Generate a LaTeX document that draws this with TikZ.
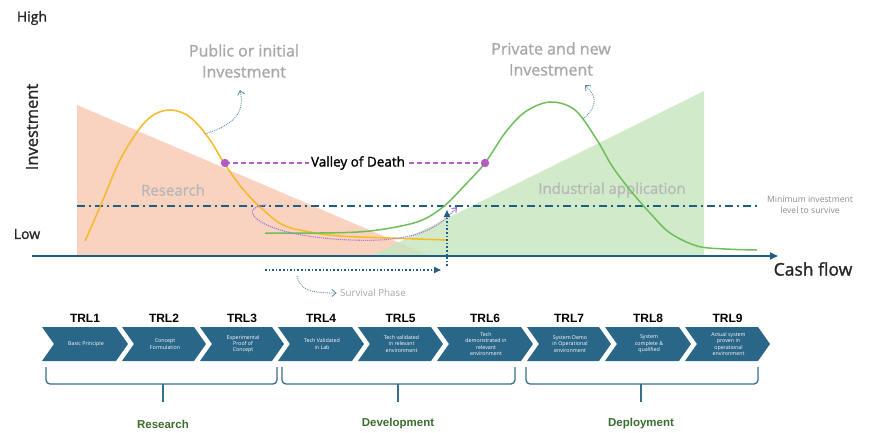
\documentclass[tikz,border=0pt]{standalone}
\usepackage{fontspec}
\setmainfont{Open Sans}
\newfontfamily\semif{Open Sans}[FakeBold=1.3]
\newfontfamily\arialf{Liberation Sans}
\usetikzlibrary{arrows.meta}
\definecolor{salmon}{HTML}{F9D3C0}
\definecolor{greenfill}{HTML}{C9E6C0}
\definecolor{orangec}{HTML}{F7B924}
\definecolor{greenc}{HTML}{6DBF5A}
\definecolor{darkblue}{HTML}{1F5F82}
\definecolor{magentac}{HTML}{B45CC0}
\definecolor{purplec}{HTML}{A472D8}
\definecolor{lightgraytext}{HTML}{A8A8A8}
\definecolor{chevc}{HTML}{2A6688}
\definecolor{phasegreen}{HTML}{3B6E2F}
\begin{document}
\begin{tikzpicture}[x=1pt,y=-1pt,
  axislabel/.style={font=\semif\fontsize{14}{16}\selectfont, text=black!85},
  graytitle/.style={font=\semif\fontsize{16}{21}\selectfont, text=lightgraytext, align=center},
  areatext/.style={font=\semif\fontsize{15}{17}\selectfont, text=black!28},
  smalltext/.style={font=\fontsize{8.6}{10.5}\selectfont, text=black!45, align=center},
  chevtext/.style={font=\fontsize{5.3}{6.3}\selectfont, text=white, align=center},
  trllabel/.style={font=\arialf\bfseries\fontsize{12}{14}\selectfont},
  phaselabel/.style={font=\arialf\bfseries\fontsize{11.5}{13}\selectfont, text=phasegreen},
  bluedot/.style={darkblue, line width=1.6pt, dotted},
  curvearrow/.style={darkblue!70, line width=0.9pt, densely dotted, -{Straight Barb[length=4pt,width=7pt]}},
  bracec/.style={darkblue!90, line width=1.3pt}
]
\useasboundingbox (0,0) rectangle (878,433);

% areas
\fill[salmon] (77,105) -- (430,256) -- (77,256) -- cycle;
\fill[greenfill, opacity=0.85] (371,256) -- (704,91) -- (704,256) -- cycle;
\node[areatext] (research) at (173,190) {Research};
\node[areatext] (industrial) at (612,190) {Industrial application};

% min level dash-dot
\coordinate (minL) at (77,206);
\coordinate (minR) at (760,206);
\draw[darkblue, line width=1.6pt, dash pattern=on 8pt off 4pt on 2pt off 4pt] (minL) -- (minR);
\node[smalltext] (minlabel) at (810,205) {Minimum investment\\level to survive};

% curves
\draw[orangec, line width=1.5pt] plot[smooth, tension=0.55] coordinates {(85,241) (100,207) (120,160) (140,128) (155,114) (171,110) (187,115) (200,127) (212,143) (224,163) (242,188) (260,207) (283,225) (310,232) (340,236) (390,238) (447,240)};
\draw[greenc, line width=1.5pt] plot[smooth, tension=0.55] coordinates {(265,233) (320,233) (370,231) (417,222) (443,207) (465,185) (485,163) (505,133) (525,112) (550,102) (575,110) (597,140) (612,166) (630,190) (650,213) (670,233) (697,246) (725,249) (757,250)};

% purple loop
\coordinate (pS) at (266,205);
\coordinate (pE) at (457,207);
\draw[purplec, line width=1.1pt, densely dotted, -{Straight Barb[length=4pt,width=6pt]}] (pS) .. controls (235,207) and (255,236) .. (350,240) .. controls (420,243) and (440,226) .. (pE);

% valley of death
\coordinate (vL) at (225,163);
\coordinate (vR) at (485,163);
\draw[magentac, line width=1.4pt, dash pattern=on 5pt off 3pt] (vL) -- (vR);
\node[fill=white, inner sep=2pt, font=\semif\fontsize{13.5}{16}\selectfont] (vod) at (358,163) {Valley of Death};
\fill[magentac] (vL) circle (4.2pt);
\fill[magentac] (vR) circle (4.2pt);

% axis
\coordinate (axL) at (32,256);
\coordinate (axR) at (778,256);
\draw[darkblue, line width=1.6pt, -{Triangle[length=8pt,width=7pt]}] (axL) -- (axR);
\node[axislabel, font=\semif\fontsize{17.5}{20}\selectfont] (cash) at (813,269) {Cash flow};
\node[axislabel] (high) at (32,18) {High};
\node[axislabel] (low) at (27,234) {Low};
\node[axislabel, font=\semif\fontsize{16.5}{19}\selectfont, rotate=90] (inv) at (32,127) {Investment};

% survival arrows
\coordinate (sv1) at (447,266);
\coordinate (sv2) at (447,210);
\draw[bluedot, -{Triangle[length=7pt,width=6pt]}] (sv1) -- (sv2);
\coordinate (sh1) at (265,270);
\coordinate (sh2) at (441,270);
\draw[bluedot, -{Triangle[length=7pt,width=6pt]}] (sh1) -- (sh2);
\node[font=\fontsize{9.8}{11}\selectfont, text=black!35] (surv) at (373,293) {Survival Phase};
\coordinate (sa) at (297,276);
\draw[curvearrow] (sa) .. controls (300,290) and (310,293) .. (surv.west);

% titles
\node[graytitle] (pub) at (244,61) {Public or initial\\Investment};
\node[graytitle] (priv) at (551,59) {Private and new\\Investment};
\coordinate (pa) at (205,134);
\coordinate (pat) at (240,90);
\draw[curvearrow] (pa) .. controls (230,126) and (246,115) .. (pat);
\coordinate (pr) at (583,119);
\coordinate (prt) at (585,85);
\draw[curvearrow] (pr) .. controls (600,105) and (595,95) .. (prt);

% chevrons
\foreach \i/\x/\w/\t in {
  1/42/74/{Basic Principle},
  2/122/72/{Concept\\Formulation},
  3/200/72/{Experimental\\Proof of\\Concept},
  4/278/74/{Tech Validated\\in Lab},
  5/358/73/{Tech validated\\in relevant\\environment},
  6/437/84/{Tech\\demonstrated in\\relevant\\environment},
  7/527/72/{System Demo\\in Operational\\environment},
  8/605/74/{System\\complete \&\\qualified},
  9/685/73/{Actual system\\proven in\\operational\\environment}} {
  \fill[chevc] (\x,327) -- ++(\w,0) -- ++(12,17) -- ++(-12,17) -- ++(-\w,0) -- ++(12,-17) -- cycle;
  \node[chevtext] (chev\i) at ({\x+\w/2+7},344) {\t};
  \node[trllabel] (trl\i) at ({\x+\w/2+6},318) {TRL\i};
}

% braces
\foreach \n/\a/\b/\m/\lab in {r/46/277/163/Research, d/282/515/398/Development, p/526/758/641/Deployment} {
  \draw[bracec, rounded corners=4pt] (\a,367) -- (\a,384) -- (\b,384) -- (\b,367);
  \draw[bracec] (\m,384) -- (\m,402);
  \node[phaselabel] (ph\n) at (\m,424) {\lab};
}
\end{tikzpicture}
\end{document}
